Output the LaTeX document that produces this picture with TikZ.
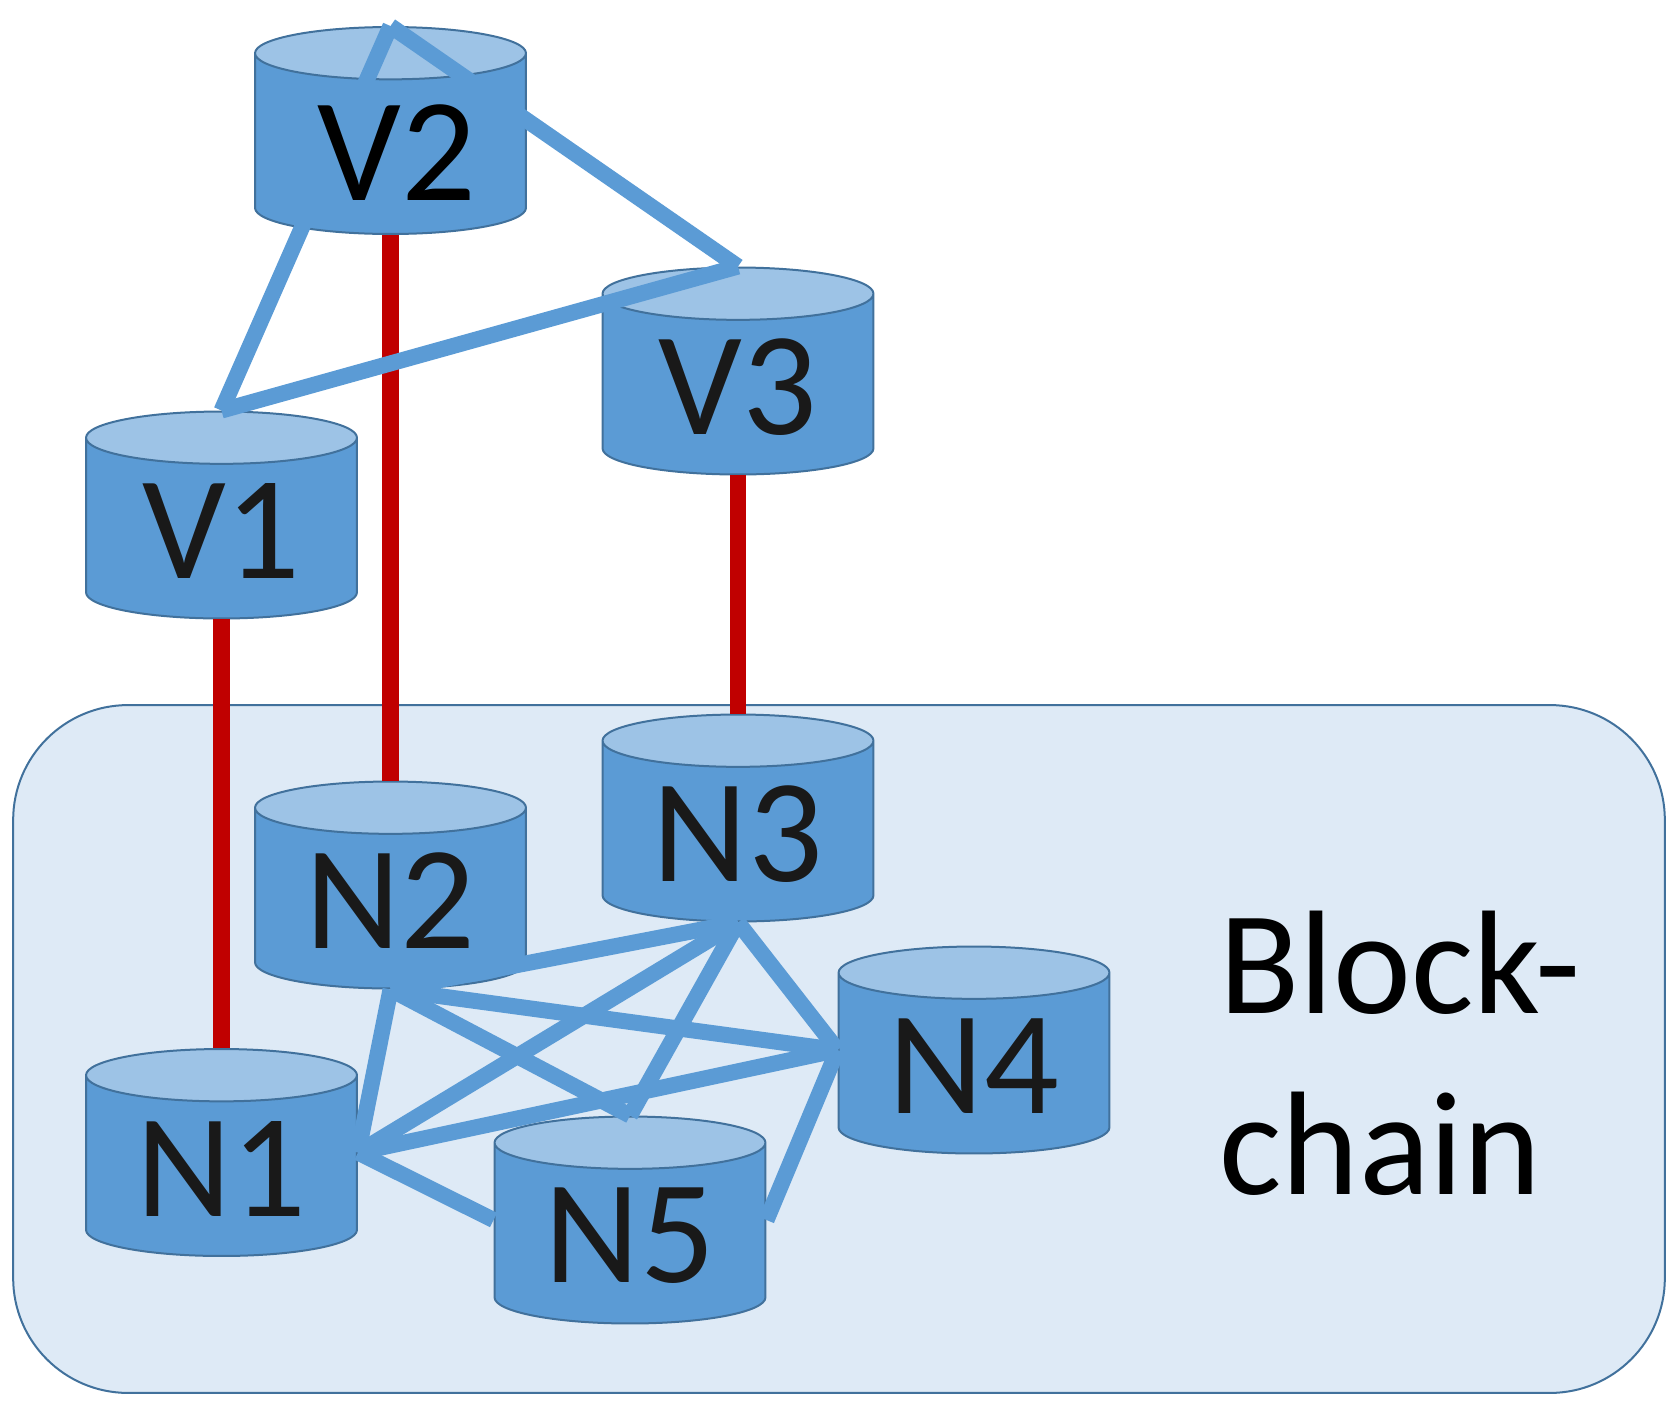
\documentclass[tikz,border=0pt]{standalone}
\usepackage{fontspec}
\setmainfont{Carlito}
\usetikzlibrary{shapes.geometric}
\definecolor{cylbody}{RGB}{91,155,213}
\definecolor{cylend}{RGB}{157,195,230}
\definecolor{cyledge}{RGB}{65,113,156}
\definecolor{chainfill}{RGB}{222,234,246}
\definecolor{linkred}{RGB}{192,0,0}
\tikzset{
  cyl/.style={
    cylinder, shape border rotate=90, shape aspect=0.33, anchor=shape center,
    minimum width=5.42cm, minimum height=4.14cm, inner sep=0pt,
    draw=cyledge, line width=0.04cm,
    cylinder uses custom fill, cylinder body fill=cylbody, cylinder end fill=cylend,
    font=\fontsize{84}{100}\selectfont, execute at begin node=\phantom{V1}
  },
  cyltext/.style={font=\fontsize{84}{100}\selectfont, text=black!90, inner sep=0pt},
  redlink/.style={draw=linkred, line width=0.33cm},
  bluelink/.style={draw=cylbody, line width=0.32cm}
}
\begin{document}
\begin{tikzpicture}[x=0.02cm,y=-0.02cm]

    \useasboundingbox (0,0) rectangle (1680,1407);

    % Blockchain area
    \node[draw=cyledge, fill=chainfill, line width=0.04cm, rounded corners=2.3cm,
      minimum width=33.04cm, minimum height=13.76cm, inner sep=0pt] (area) at (839,1049) {};
    \node[anchor=west, align=left, font=\fontsize{84}{103}\selectfont] (label) at (1213,1053) {Block-\\chain};

    % Upper cylinders
    \node[cyl] (V1) at (221.5,515) {};
    \node[cyl] (V2) at (390.5,130.5) {};
    \node[cyl] (V3) at (738,371) {};

    % Lower cylinders
    \node[cyl] (N1) at (221.5,1152.5) {};
    \node[cyl] (N2) at (390.5,885) {};
    \node[cyl] (N3) at (738,818) {};
    \node[cyl] (N4) at (974,1050) {};
    \node[cyl] (N5) at (630,1220) {};

    % Side points of the lower cylinders
    \coordinate (N1 right) at (N1.shape center -| N1.east);
    \coordinate (N4 left) at (N4.shape center -| N4.west);
    \coordinate (N5 left) at (N5.shape center -| N5.west);
    \coordinate (N5 right) at (N5.shape center -| N5.east);

    % Red links
    \foreach \a/\b in {V1/N1,V2/N2,V3/N3}
    \draw[redlink] (\a.bottom) -- (\b.top);

    % Blue links
    \foreach \a/\b in {V2.top/V1.top,V2.top/V3.top,V1.top/V3.top,
      N2.bottom/N1 right,N2.bottom/N3.bottom,N2.bottom/N4 left,N2.bottom/N5.top,
      N3.bottom/N1 right,N3.bottom/N4 left,N3.bottom/N5.top,
      N1 right/N4 left,N1 right/N5 left,N4 left/N5 right}
    \draw[bluelink] (\a) -- (\b);

    % Cylinder labels over the links
    \foreach \n in {V1,V3,N1,N2,N3,N4,N5}
    \node[cyltext] (\n text) at ([shift={(0,16)}]\n.shape center) {\n};
    \node[cyltext, text=black] (V2 text) at ([shift={(6.5,22.5)}]V2.shape center) {V2};

  \end{tikzpicture}
\end{document}
